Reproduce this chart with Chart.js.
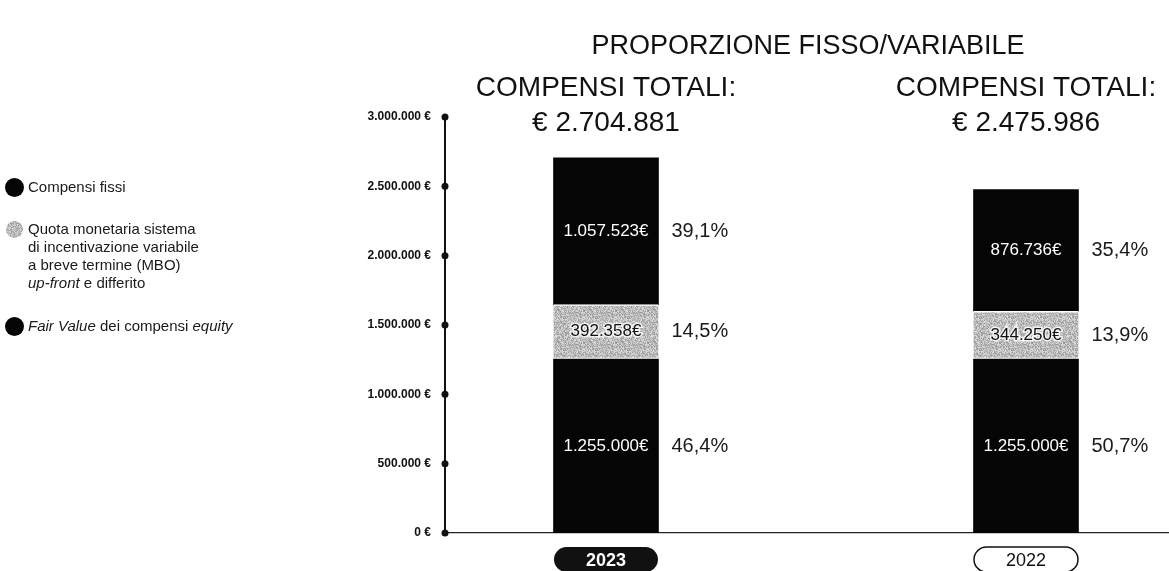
<!DOCTYPE html>
<html lang="it">
<head>
<meta charset="utf-8">
<title>Proporzione fisso/variabile</title>
<script src="https://cdn.jsdelivr.net/npm/chart.js@4.4.1/dist/chart.umd.min.js"></script>
<style>
  html, body { margin: 0; padding: 0; background: #fff; }
  #wrap { position: relative; width: 1169px; height: 571px; overflow: hidden; }
  #legend { position: absolute; left: 0; top: 0; font: 15px 'Liberation Sans', Arial, sans-serif; color: #1a1a1a; }
  .item { position: absolute; left: 28px; line-height: 18px; white-space: nowrap; }
  .dot { position: absolute; left: -23px; top: 0; width: 19px; height: 19px; border-radius: 50%; background: #050505; }
  .dot.grey { left: -22px; top: 1px; width: 17px; height: 17px; }
</style>
</head>
<body>
<div id="wrap">
  <canvas id="chart"></canvas>
  <div id="legend">
    <div class="item" style="top:178px"><span class="dot"></span>Compensi fissi</div>
    <div class="item" style="top:220px"><span class="dot grey" id="greyDot"></span>Quota monetaria sistema<br>di incentivazione variabile<br>a breve termine (MBO)<br><i>up-front</i> e differito</div>
    <div class="item" style="top:317px"><span class="dot"></span><i>Fair Value</i> dei compensi <i>equity</i></div>
  </div>
</div>
<script>
const FONT = "'Liberation Sans', Arial, sans-serif"

const categories = ['2023', '2022']
const fissi = [1255000, 1255000]
const mbo = [392358, 344250]
const equity = [1057523, 876736]
const yTickValues = [0, 500000, 1000000, 1500000, 2000000, 2500000, 3000000]
const highlighted = '2023'

const totals = categories.map((_, i) => fissi[i] + mbo[i] + equity[i])

function fmt(n) {
  return String(n).replace(/\B(?=(\d{3})+(?!\d))/g, '.')
}

// speckled grey like a printed halftone
function grainCanvas() {
  const c = document.createElement('canvas')
  c.width = c.height = 32
  const g = c.getContext('2d')
  const img = g.createImageData(32, 32)
  let s = 12345
  for (let k = 0; k < 32 * 32; k++) {
    s = (s * 1103515245 + 12345) & 0x7fffffff
    const v = 150 + ((s >> 8) % 75)
    img.data[k * 4] = v
    img.data[k * 4 + 1] = v
    img.data[k * 4 + 2] = v
    img.data[k * 4 + 3] = 255
  }
  g.putImageData(img, 0, 0)
  return c
}

const grain = grainCanvas()
const canvas = document.getElementById('chart')
const greyFill = canvas.getContext('2d').createPattern(grain, 'repeat')
document.getElementById('greyDot').style.background = 'url(' + grain.toDataURL() + ')'

const toPoints = arr => arr.map((v, i) => ({x: i, y: v}))

const barLabels = {
  id: 'barLabels',
  afterDatasetsDraw(chart) {
    const ctx = chart.ctx
    ctx.save()
    ctx.textBaseline = 'middle'
    chart.data.datasets.forEach((ds, di) => {
      const meta = chart.getDatasetMeta(di)
      meta.data.forEach((bar, i) => {
        const v = ds.data[i].y
        const cy = (bar.y + bar.base) / 2
        const text = fmt(v) + '€'
        ctx.textAlign = 'center'
        ctx.font = '17px ' + FONT
        if (ds.darkLabel) {
          ctx.lineWidth = 3
          ctx.strokeStyle = 'rgba(255,255,255,0.8)'
          ctx.strokeText(text, bar.x, cy)
          ctx.fillStyle = '#111'
        } else {
          ctx.fillStyle = '#fff'
        }
        ctx.fillText(text, bar.x, cy)

        const pct = (v / totals[i] * 100).toFixed(1).replace('.', ',') + '%'
        ctx.textAlign = 'left'
        ctx.font = '20px ' + FONT
        ctx.fillStyle = '#1a1a1a'
        ctx.fillText(pct, bar.x + bar.width / 2 + 13, cy)
      })
    })
    ctx.restore()
  }
}

const decorations = {
  id: 'decorations',
  afterDraw(chart) {
    const ctx = chart.ctx
    const x = chart.scales.x
    const y = chart.scales.y
    ctx.save()

    // dots on the value axis
    ctx.fillStyle = '#111'
    for (const t of y.ticks) {
      ctx.beginPath()
      ctx.arc(chart.chartArea.left, y.getPixelForValue(t.value), 3.5, 0, Math.PI * 2)
      ctx.fill()
    }

    ctx.textAlign = 'center'
    ctx.textBaseline = 'middle'
    ctx.fillStyle = '#111'
    ctx.font = '27px ' + FONT
    ctx.fillText('PROPORZIONE FISSO/VARIABILE', 808, 47)

    categories.forEach((cat, i) => {
      const cx = x.getPixelForValue(i)
      ctx.fillStyle = '#111'
      ctx.font = '28px ' + FONT
      ctx.fillText('COMPENSI TOTALI:', cx, 88)
      ctx.fillText('€ ' + fmt(totals[i]), cx, 123)

      // year pill under each bar
      ctx.beginPath()
      ctx.roundRect(cx - 52, 547, 104, 25, 12.5)
      if (cat === highlighted) {
        ctx.fill()
        ctx.fillStyle = '#fff'
        ctx.font = 'bold 18px ' + FONT
      } else {
        ctx.lineWidth = 1.5
        ctx.strokeStyle = '#111'
        ctx.stroke()
        ctx.font = '18px ' + FONT
      }
      ctx.fillText(cat, cx, 561)
    })
    ctx.restore()
  }
}

new Chart(canvas, {
  type: 'bar',
  data: {
    datasets: [
      {label: 'Compensi fissi', data: toPoints(fissi), backgroundColor: '#050505'},
      {
        label: 'Quota monetaria sistema di incentivazione variabile a breve termine (MBO) up-front e differito',
        data: toPoints(mbo),
        backgroundColor: greyFill,
        borderColor: '#fff',
        borderWidth: {top: 1.5, bottom: 1.5, left: 0, right: 0},
        borderSkipped: false,
        darkLabel: true
      },
      {label: 'Fair Value dei compensi equity', data: toPoints(equity), backgroundColor: '#050505'}
    ]
  },
  options: {
    responsive: true,
    maintainAspectRatio: false,
    animation: false,
    barThickness: 105,
    layout: {padding: {top: 117, left: 0, right: 0, bottom: 0}},
    plugins: {legend: {display: false}, tooltip: {enabled: false}},
    scales: {
      x: {
        type: 'linear',
        bounds: 'data',
        offset: false,
        stacked: true,
        min: -0.3833,
        max: 1.3405,
        grid: {display: false},
        border: {color: '#222', width: 1.2},
        ticks: {display: false},
        afterFit: s => { s.height = 38 }
      },
      y: {
        stacked: true,
        min: 0,
        max: 3000000,
        afterBuildTicks: s => { s.ticks = yTickValues.map(v => ({value: v})) },
        afterFit: s => { s.width = 445 },
        grid: {display: false},
        border: {color: '#111', width: 2},
        ticks: {
          padding: 6,
          color: '#111',
          font: {family: FONT, size: 12, weight: 'bold'},
          callback: v => fmt(v) + ' €'
        }
      }
    }
  },
  plugins: [barLabels, decorations]
})
</script>
</body>
</html>
